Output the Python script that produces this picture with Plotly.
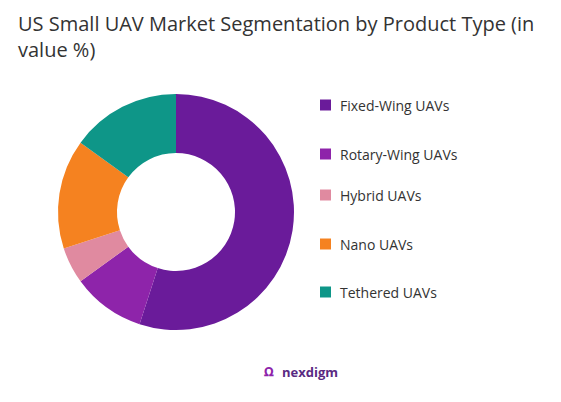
import plotly.graph_objects as go

labels = ["Fixed-Wing UAVs", "Rotary-Wing UAVs", "Hybrid UAVs", "Nano UAVs", "Tethered UAVs"]
values = [55, 10, 5, 15, 15]
colors = ["#6A1B9A", "#8E24AA", "#E08AA0", "#F58220", "#0E9688"]

W, H = 561, 402
O = 8  # render offset compensation
fig = go.Figure(go.Pie(
    labels=labels, values=values, hole=0.5, sort=False, direction="clockwise",
    rotation=0, marker=dict(colors=colors), textinfo="none", hoverinfo="label+percent",
    domain=dict(x=[(58 - O) / W, (294 - O) / W], y=[1 - (330 - O) / H, 1 - (94 - O) / H]),
    showlegend=False
))
fig.update_layout(
    width=W, height=H, paper_bgcolor="white", plot_bgcolor="white",
    margin=dict(l=0, r=0, t=0, b=0),
    font=dict(family="Open Sans, sans-serif", color="#333"),
)
fig.add_annotation(text="US Small UAV Market Segmentation by Product Type (in<br>value %)",
                   x=(16 - O) / W, y=1 - (8 - O) / H, xref="paper", yref="paper",
                   xanchor="left", yanchor="top", align="left", showarrow=False,
                   font=dict(size=20, color="#333"))
row_y = [105, 154, 195, 244, 292]
for lab, col, ry in zip(labels, colors, row_y):
    fig.add_shape(type="rect", xref="paper", yref="paper",
                  x0=(320 - O) / W, x1=(331 - O) / W,
                  y0=1 - (ry - O + 5.5) / H, y1=1 - (ry - O - 5.5) / H,
                  fillcolor=col, line=dict(width=0))
    fig.add_annotation(text=lab, x=(338 - O) / W, y=1 - (ry - O) / H, xref="paper", yref="paper",
                       xanchor="left", yanchor="middle", showarrow=False,
                       font=dict(size=14, color="#333"))
fig.add_annotation(text="<b>nexdigm</b>", x=(280 - O) / W, y=1 - (383 - O) / H, xref="paper", yref="paper",
                   showarrow=False, font=dict(size=13, color="#5A2A82"), xanchor="left")
fig.add_annotation(text="<b>ꭥ</b>", x=(276 - O) / W, y=1 - (383 - O) / H, xref="paper", yref="paper",
                   showarrow=False, font=dict(size=16, color="#8E24AA"), xanchor="right")
fig.write_html("out.html")
